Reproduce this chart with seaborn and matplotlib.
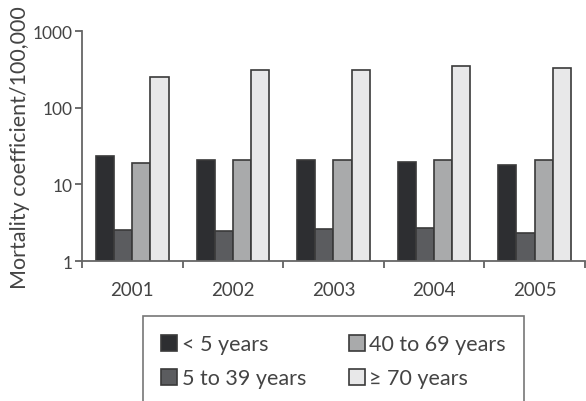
import numpy as np
import pandas as pd
import matplotlib
matplotlib.use("Agg")
import matplotlib.pyplot as plt
import seaborn as sns

sns.set_style("white")
plt.rcParams['font.family'] = ['Lato', 'DejaVu Sans']

# Mortality coefficient per 100,000 by age group and year
years = ['2001', '2002', '2003', '2004', '2005']
groups = ['< 5 years', '5 to 39 years', '40 to 69 years', '\u2265 70 years']
under5 = [23.4, 20.7, 20.7, 19.6, 17.9]
age5_39 = [2.55, 2.5, 2.6, 2.7, 2.3]
age40_69 = [19.0, 20.7, 20.7, 20.7, 20.7]
age70 = [250, 310, 310, 350, 330]

df = pd.DataFrame({
    'year': years * 4,
    'group': np.repeat(groups, len(years)),
    'value': under5 + age5_39 + age40_69 + age70,
})

colors = ['#2c2d32', '#5a5b60', '#a9aaab', '#e8e8e9']
text_col = '#444444'

fig = plt.figure(figsize=(5.86, 4.02), dpi=100)
ax = fig.add_axes([0.14, 0.348, 0.858, 0.572])
ax.set_yscale('log')

sns.barplot(data=df, x='year', y='value', hue='group', hue_order=groups,
            palette=colors, width=0.72, edgecolor='#3a3a3a', linewidth=1.2,
            ax=ax, legend=True)

ax.set_ylim(1, 1000)
ax.set_xlim(-0.5, 4.5)
ax.set_yticks([1, 10, 100, 1000])
ax.set_yticklabels(['1', '10', '100', '1000'])
ax.minorticks_off()
ax.set_xticks(np.arange(-0.5, 5, 1), minor=True)
ax.tick_params(axis='x', which='major', length=0, pad=14, labelsize=13.5, labelcolor=text_col)
ax.tick_params(axis='x', which='minor', length=5, width=1.2, color='#555555', direction='out', bottom=True)
ax.tick_params(axis='y', length=5, width=1.2, color='#555555', direction='out', left=True,
               labelsize=12.5, labelcolor=text_col, pad=2)
ax.set_xlabel('')
ax.set_ylabel('Mortality coefficient/100,000', fontsize=15.5, color=text_col, labelpad=2)

for s in ['top', 'right']:
    ax.spines[s].set_visible(False)
for s in ['left', 'bottom']:
    ax.spines[s].set_color('#666666')
    ax.spines[s].set_linewidth(1.3)

handles, labels = ax.get_legend_handles_labels()
ax.get_legend().remove()
leg = fig.legend(handles, labels, ncol=2, loc='upper left',
                 bbox_to_anchor=(143 / 586, 1 - 317 / 402), borderaxespad=0,
                 fontsize=15.5, frameon=True, fancybox=False, edgecolor='#555555',
                 handlelength=0.74, handleheight=0.74, handletextpad=0.2,
                 borderpad=0.85, labelspacing=0.65, columnspacing=2.0)
leg.get_frame().set_linewidth(1.2)
for t in leg.get_texts():
    t.set_color(text_col)

fig.savefig('out.png', dpi=100)
